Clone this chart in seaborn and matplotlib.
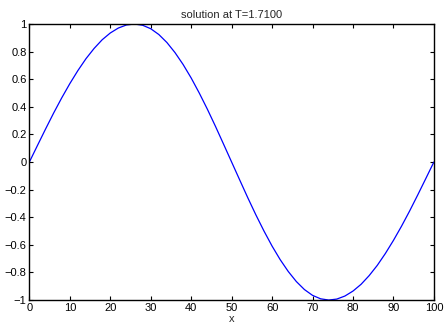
import matplotlib
matplotlib.use("Agg")
import matplotlib.pyplot as plt
import numpy as np
import pandas as pd
import seaborn as sns

# valores
x_vals = [0, 2, 4, 6, 8, 10, 12, 14, 16, 18, 20, 22, 24, 26, 28, 30, 32, 34, 36,
          38, 40, 42, 44, 46, 48, 50, 52, 54, 56, 58, 60, 62, 64, 66, 68, 70, 72,
          74, 76, 78, 80, 82, 84, 86, 88, 90, 92, 94, 96, 98, 100]
u_vals = [0.0, 0.120, 0.239, 0.355, 0.465, 0.568, 0.663, 0.749, 0.823, 0.886,
          0.935, 0.971, 0.993, 1.0, 0.991, 0.966, 0.924, 0.866, 0.793, 0.707,
          0.609, 0.500, 0.383, 0.259, 0.130, 0.0, -0.130, -0.259, -0.383, -0.500,
          -0.609, -0.707, -0.793, -0.866, -0.924, -0.966, -0.991, -1.0, -0.993,
          -0.971, -0.935, -0.886, -0.823, -0.749, -0.663, -0.568, -0.465, -0.355,
          -0.239, -0.120, 0.0]
x_ticks = [0, 10, 20, 30, 40, 50, 60, 70, 80, 90, 100]
y_ticks = [-1, -0.8, -0.6, -0.4, -0.2, 0, 0.2, 0.4, 0.6, 0.8, 1]
titulo = "solution at T=1.7100"

datos = pd.DataFrame({"x": x_vals, "u": u_vals})

sns.set_style("ticks")
plt.rcParams['font.family'] = ['Liberation Sans', 'DejaVu Sans']
plt.rcParams['axes.unicode_minus'] = True

fig = plt.figure(figsize=(4.45, 3.29), dpi=100)
ax = fig.add_axes([0.066, 0.088, 0.909, 0.839])

sns.lineplot(data=datos, x="x", y="u", color=(0, 0, 1), linewidth=0.9, ax=ax)

ax.set_xlim(0, 100)
ax.set_ylim(-1, 1)
ax.set_xticks(x_ticks)
ax.set_xticklabels([str(t) for t in x_ticks])
ax.set_yticks(y_ticks)
ax.set_yticklabels(["%g" % t if t >= 0 else "\u2212%g" % -t for t in y_ticks])
ax.tick_params(direction='in', length=3, width=0.8, labelsize=8,
               top=True, right=True, pad=2, colors='black')
for s in ax.spines.values():
    s.set_linewidth(1.0)
    s.set_color('black')
    s.set_visible(True)

ax.set_title(titulo, fontsize=8, pad=4)
ax.set_xlabel("x", fontsize=8, labelpad=1)
ax.set_ylabel("")

plt.savefig("out.png", dpi=100)
